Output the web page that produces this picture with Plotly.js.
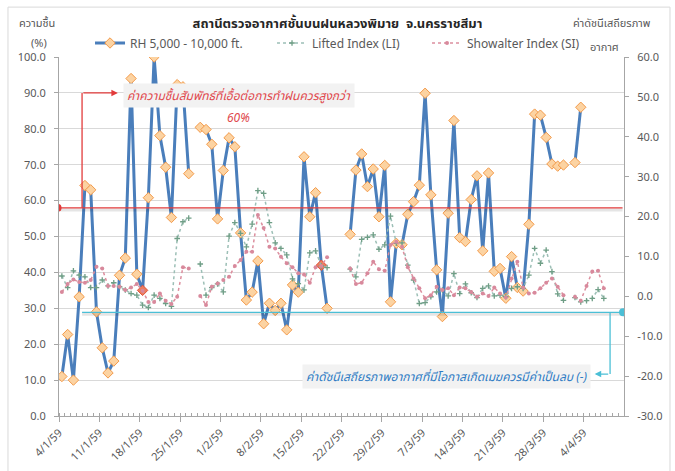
<!DOCTYPE html>
<html><head><meta charset="utf-8">
<script src="https://cdn.plot.ly/plotly-3.0.1.min.js"></script>
<style>html,body{margin:0;padding:0;background:#fff}#chart{width:675px;height:471px}</style>
</head><body><div id="chart"></div>
<script>
// ---- data (day 0 = 4 Jan 2016 = 4/1/59) ----
const startDate = '2016-01-04';
const rhValues = [11.0,22.7,10.0,33.2,64.2,63.0,29.0,19.0,12.0,15.3,
  39.2,44.0,94.0,39.5,35.0,60.8,100.0,78.1,69.3,55.3,
  92.3,91.7,67.5,null,80.4,79.8,75.7,54.9,68.4,77.5,
  75.0,51.0,32.3,34.5,43.2,25.7,31.4,29.4,31.4,24.0,
  36.5,34.5,72.2,55.5,62.2,42.0,30.0,null,null,null,
  50.6,68.5,73.0,63.9,68.8,55.5,69.8,31.8,48.1,47.7,
  56.2,59.7,64.3,89.9,61.6,40.7,27.7,56.5,82.3,49.7,
  48.6,60.3,66.9,46.0,67.7,40.3,41.1,32.8,44.4,35.8,
  34.8,53.4,84.1,83.8,77.6,70.2,69.6,69.9,null,70.6,86.0];
const liValues = [5.1,2.2,6.4,5.3,4.9,2.2,2.2,4.1,2.6,3.4,
  2.4,1.6,0.7,0.3,-2.2,-2.8,0.3,-0.5,-1.8,-2.5,
  14.5,18.7,19.6,null,8.1,0.3,2.2,3.1,1.1,15.1,
  18.5,15.8,12.4,18.1,26.5,25.8,18.5,13.4,12.0,10.4,
  4.4,3.2,1.6,10.9,11.4,7.6,7.2,null,null,null,
  6.8,4.9,14.3,14.8,15.4,11.8,12.9,20.1,13.3,13.4,
  7.8,4.1,-1.8,-1.6,-0.1,1.1,1.6,0.1,5.7,0.7,
  3.1,0.9,-0.3,2.0,2.6,0.1,0.3,-0.1,2.0,2.4,
  2.0,5.3,12.0,8.3,11.6,6.2,0.6,-1.0,null,-0.3,
  -1.4,-1.1,-0.5,1.7,-0.5];
const siValues = [1.1,3.1,4.2,3.6,3.4,4.1,7.4,7.0,2.6,2.6,
  2.4,1.6,2.2,3.1,1.4,-1.4,-1.4,0.7,-1.1,-1.9,
  -0.1,7.3,7.0,null,0.1,-2.2,2.4,3.2,4.1,4.9,
  7.6,9.1,11.2,11.2,20.4,17.1,12.4,12.0,9.9,8.3,
  7.3,5.8,5.5,3.4,7.3,7.6,9.8,null,null,null,
  7.0,3.1,3.4,5.8,8.7,6.8,6.4,12.9,13.7,12.4,
  7.3,4.5,2.0,-0.5,0.3,2.4,1.6,2.0,0.3,2.2,
  2.0,1.1,-0.1,0.7,0.1,2.2,0.7,-0.3,4.5,8.7,
  2.2,0.7,0.9,2.0,3.4,4.5,2.4,0.3,null,-0.1,
  -1.1,2.6,6.2,6.4,2.0];
const rhHighlight = [14, 45];
const tickDates = ['2016-01-04','2016-01-11','2016-01-18','2016-01-25','2016-02-01','2016-02-08','2016-02-15',
  '2016-02-22','2016-02-29','2016-03-07','2016-03-14','2016-03-21','2016-03-28','2016-04-04'];
const tickLabels = ['4/1/59','11/1/59','18/1/59','25/1/59','1/2/59','8/2/59','15/2/59',
  '22/2/59','29/2/59','7/3/59','14/3/59','21/3/59','28/3/59','4/4/59'];
const leftTicks = [0,10,20,30,40,50,60,70,80,90,100];
const rightTicks = [-30,-20,-10,0,10,20,30,40,50,60];
const seriesNames = ['RH 5,000 - 10,000 ft.','Lifted Index (LI)','Showalter Index (SI)'];

// ---- helpers ----
function dayAt(i, hour){
  const d = new Date(startDate + 'T00:00:00Z');
  d.setUTCDate(d.getUTCDate() + i);
  return d.toISOString().slice(0,10) + ' ' + (hour || '12:00');
}
const xs = n => Array.from({length:n}, (_, i) => dayAt(i));

const FONT = "Tahoma, 'Noto Sans', 'Noto Sans Thai', Loma, 'DejaVu Sans', sans-serif";
const GREY = '#595959';

const rhFill = rhValues.map((v,i) => rhHighlight.includes(i) ? '#ee7d5c' : '#fcd3a2');
const rhLine = rhValues.map((v,i) => rhHighlight.includes(i) ? '#e0523a' : '#f39a4a');

const traces = [
  {x: xs(rhValues.length), y: rhValues, name: seriesNames[0], type:'scatter', mode:'lines+markers', legendwidth:137,
   line:{color:'#4a7ebb', width:3}, marker:{symbol:'diamond', size:8, color:rhFill, line:{color:rhLine, width:1}},
   yaxis:'y'},
  {x: xs(liValues.length), y: liValues, name: seriesNames[1], type:'scatter', mode:'lines+markers', legendwidth:110,
   line:{color:'#9cbfb6', width:1.5, dash:'dot'}, marker:{symbol:'cross-thin', size:4, line:{color:'#6f9e86', width:1.3}},
   yaxis:'y2'},
  {x: xs(siValues.length), y: siValues, name: seriesNames[2], type:'scatter', mode:'lines+markers', legendwidth:110,
   line:{color:'#dc8e9e', width:1.5, dash:'dot'}, marker:{symbol:'circle', size:4, color:'#d8899c'},
   yaxis:'y2'}
];

const RED = '#e23b3b', CYAN = '#4bbfd6';
const shapes = [
  // outer chart border
  {type:'rect', xref:'paper', yref:'paper', x0:-0.0903, x1:1.0814, y0:-0.2, y1:1.139, line:{color:'#d9d9d9', width:1}, layer:'below'},
  // red threshold line + shadow
  {type:'line', xref:'x', yref:'y', x0:'2016-01-03 18:00', x1:'2016-04-10 18:00', y0:57.4, y1:57.4, line:{color:'rgba(0,0,0,0.10)', width:3}},
  {type:'line', xref:'x', yref:'y', x0:'2016-01-03 18:00', x1:'2016-04-10 18:00', y0:58, y1:58, line:{color:RED, width:1.3}},
  {type:'circle', xref:'x', yref:'y', xsizemode:'pixel', ysizemode:'pixel', xanchor:'2016-01-03 18:00', yanchor:58,
   x0:-4, x1:4, y0:-4, y1:4, fillcolor:RED, line:{color:RED, width:0}},
  {type:'line', xref:'x', yref:'y', x0:'2016-01-08', x1:'2016-01-08', y0:58, y1:90, line:{color:RED, width:1.3}},
  // cyan line + shadow
  {type:'line', xref:'x', yref:'y2', x0:'2016-01-08', x1:'2016-04-10 20:00', y0:-4.5, y1:-4.5, line:{color:'rgba(0,0,0,0.10)', width:3}},
  {type:'line', xref:'x', yref:'y2', x0:'2016-01-08', x1:'2016-04-10 20:00', y0:-4, y1:-4, line:{color:CYAN, width:1.3}},
  {type:'circle', xref:'x', yref:'y2', xsizemode:'pixel', ysizemode:'pixel', xanchor:'2016-04-10 20:00', yanchor:-4,
   x0:-4, x1:4, y0:-4, y1:4, fillcolor:CYAN, line:{color:CYAN, width:0}},
  {type:'line', xref:'x', yref:'y2', x0:'2016-04-08 14:00', x1:'2016-04-08 14:00', y0:-4, y1:-19.5, line:{color:CYAN, width:1.3}}
];

const annotations = [
  {xref:'x', yref:'y', x:'2016-01-14 05:00', y:90, ax:-36, ay:0, text:'', showarrow:true, arrowhead:2, arrowsize:1, arrowwidth:1.3, arrowcolor:RED},
  {xref:'x', yref:'y2', x:'2016-04-05 22:00', y:-19.5, ax:15, ay:0, text:'', showarrow:true, arrowhead:2, arrowsize:1, arrowwidth:1.3, arrowcolor:CYAN},
  {xref:'x', yref:'y', x:'2016-02-04 05:00', y:89.2, text:'<i>ค่าความชื้นสัมพัทธ์ที่เอื้อต่อการทำฝนควรสูงกว่า</i>', showarrow:false,
   font:{family:FONT, size:12, color:'#e0474c'}, bgcolor:'#f2f2f2', borderpad:3},
  {xref:'x', yref:'y', x:'2016-02-04 05:00', y:83.2, text:'<i>60%</i>', showarrow:false,
   font:{family:FONT, size:12, color:'#e0474c'}},
  {xref:'x', yref:'y2', x:'2016-03-11 06:00', y:-20, text:'<i>ค่าดัชนีเสถียรภาพอากาศที่มีโอกาสเกิดเมฆควรมีค่าเป็นลบ (-)</i>', showarrow:false,
   font:{family:FONT, size:12, color:'#2f7cc4'}, bgcolor:'#f2f2f2', borderpad:3},
  // axis titles
  {xref:'paper', yref:'paper', x:-0.039, y:1.095, xanchor:'center', yanchor:'middle', text:'ความชื้น', showarrow:false, font:{family:FONT, size:11, color:GREY}},
  {xref:'paper', yref:'paper', x:-0.035, y:1.039, xanchor:'center', yanchor:'middle', text:'(%)', showarrow:false, font:{family:FONT, size:11, color:GREY}},
  {xref:'paper', yref:'paper', x:0.979, y:1.095, xanchor:'center', yanchor:'middle', text:'ค่าดัชนีเสถียรภาพ', showarrow:false, font:{family:FONT, size:11, color:GREY}},
  {xref:'paper', yref:'paper', x:0.966, y:1.028, xanchor:'center', yanchor:'middle', text:'อากาศ', showarrow:false, font:{family:FONT, size:11, color:GREY}}
];

const layout = {
  width:675, height:471,
  margin:{l:59, r:51, t:57, b:55, pad:0},
  paper_bgcolor:'#ffffff', plot_bgcolor:'#ffffff',
  font:{family:FONT, size:11, color:GREY},
  title:{text:'<b>สถานีตรวจอากาศชั้นบนฝนหลวงพิมาย  จ.นครราชสีมา</b>', x:0.5, xref:'container', y:0.951, yanchor:'middle',
         font:{family:FONT, size:13, color:'#262626'}},
  showlegend:true,
  legend:{orientation:'h', x:0.0549, xanchor:'left', y:1.039, yanchor:'middle', font:{family:FONT, size:12, color:GREY},
          bgcolor:'rgba(0,0,0,0)', borderwidth:0},
  xaxis:{type:'date', range:['2016-01-04','2016-04-11'], tickmode:'array', tickvals:tickDates, ticktext:tickLabels,
         tickangle:-45, ticks:'outside', ticklen:5, tickcolor:'#a6a6a6', showline:true, linecolor:'#a6a6a6', linewidth:1,
         showgrid:false, zeroline:false, tickfont:{family:FONT, size:11, color:GREY},
         minor:{tickmode:'linear', tick0:'2016-01-04', dtick:86400000, ticks:'inside', ticklen:3, tickcolor:'#a6a6a6', showgrid:false}},
  yaxis:{range:[0,100], tickmode:'array', tickvals:leftTicks, ticktext:leftTicks.map(v=>v.toFixed(1)),
         ticks:'outside', ticklen:4, tickcolor:'#a6a6a6', showline:true, linecolor:'#a6a6a6', linewidth:1,
         showgrid:true, gridcolor:'#d9d9d9', gridwidth:1, zeroline:false, tickfont:{family:FONT, size:11, color:GREY}, ticklabelstandoff:6},
  yaxis2:{range:[-30,60], overlaying:'y', side:'right', tickmode:'array', tickvals:rightTicks, ticktext:rightTicks.map(v=>v.toFixed(1)),
         ticks:'outside', ticklen:4, tickcolor:'#a6a6a6', showline:true, linecolor:'#a6a6a6', linewidth:1,
         showgrid:false, zeroline:false, tickfont:{family:FONT, size:11, color:GREY}, ticklabelstandoff:6},
  shapes:shapes,
  annotations:annotations
};

Plotly.newPlot('chart', traces, layout, {displayModeBar:false, staticPlot:true});
</script>
</body></html>
